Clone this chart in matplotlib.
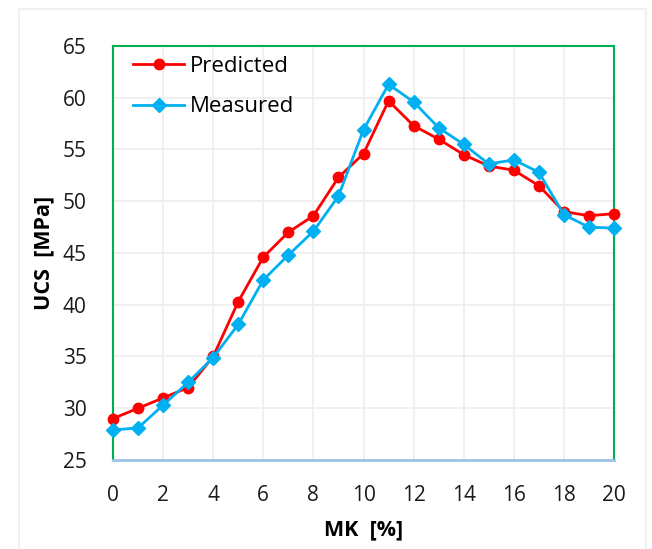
import matplotlib.pyplot as plt
from matplotlib.patches import Rectangle

mk = list(range(21))
predicted = [29.0, 30.0, 31.0, 32.0, 35.0, 40.3, 44.6, 47.0, 48.6, 52.3, 54.6,
             59.7, 57.3, 56.0, 54.5, 53.4, 53.0, 51.5, 49.0, 48.6, 48.8]
measured = [27.9, 28.1, 30.3, 32.5, 34.9, 38.1, 42.4, 44.8, 47.1, 50.5, 56.9,
            61.3, 59.6, 57.1, 55.5, 53.6, 54.0, 52.8, 48.7, 47.5, 47.4]

plt.rcParams['font.family'] = ['Open Sans', 'DejaVu Sans']

fig = plt.figure(figsize=(6.52, 5.49), dpi=100)
ax = fig.add_axes([113 / 652, 1 - 460 / 549, 501 / 652, 414 / 549])

# light chart-area border
fig.patches.append(Rectangle((19 / 652, -0.01), 627 / 652, 1 - 9 / 549 + 0.01,
                             transform=fig.transFigure, fill=False,
                             edgecolor='#f0f0f0', linewidth=1.5))

ax.plot(mk, predicted, color='#ff0000', marker='o', markersize=7.5,
        linewidth=2, label='Predicted', clip_on=False, zorder=3)
ax.plot(mk, measured, color='#00b0f0', marker='D', markersize=7,
        linewidth=2, label='Measured', clip_on=False, zorder=3)

ax.set_xlim(0, 20)
ax.set_ylim(25, 65)
ax.set_xticks(range(0, 21, 2))
ax.set_yticks(range(25, 66, 5))
ax.grid(True, color='#eeeeee', linewidth=1.2)
ax.set_axisbelow(True)

for side in ['left', 'top', 'right']:
    ax.spines[side].set_color('#00b050')
    ax.spines[side].set_linewidth(1.5)
ax.spines['bottom'].set_color('#9dc3e6')
ax.spines['bottom'].set_linewidth(2)

ax.tick_params(length=0, labelsize=15, colors='#1a1a1a')
ax.tick_params(axis='x', pad=18)
ax.tick_params(axis='y', pad=19)

ax.set_xlabel('MK  [%]', fontsize=15.5, fontweight='bold', labelpad=10)
ax.set_ylabel('UCS  [MPa]', fontsize=15.5, fontweight='bold', labelpad=6)

ax.legend(loc='upper left', bbox_to_anchor=(0.02, 1.0), frameon=False,
          fontsize=16, handlelength=2.3, borderaxespad=0.15,
          labelspacing=0.87, handletextpad=0.25, borderpad=0.3)

fig.savefig('out.png', dpi=100)
